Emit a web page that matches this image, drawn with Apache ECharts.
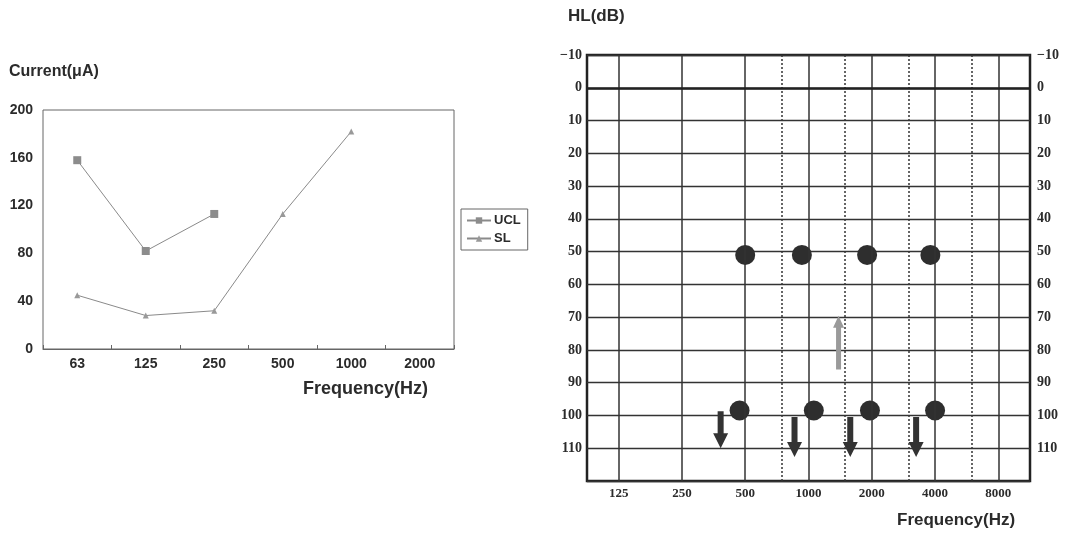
<!DOCTYPE html>
<html>
<head>
<meta charset="utf-8">
<script src="https://cdn.jsdelivr.net/npm/echarts@6/dist/echarts.min.js"></script>
<style>
html,body{margin:0;padding:0;background:#fff;}
#chart{width:1079px;height:534px;}
</style>
</head>
<body>
<div id="chart"></div>
<script>
// ---------- Left chart data ----------
const leftCategories = ['63', '125', '250', '500', '1000', '2000'];
const uclValues = [158, 82, 113, null, null, null];
const slValues = [45, 28, 32, 113, 182, null];
const leftYMin = 0, leftYMax = 200, leftYStep = 40;

// ---------- Right chart (audiogram) data ----------
const octaveFreqs = [125, 250, 500, 1000, 2000, 4000, 8000];
const halfOctaveFreqs = [750, 1500, 3000, 6000];
const hlMin = -10, hlMax = 120, hlStep = 10;
const upperDotFreqs = [500, 930, 1900, 3800];
const upperDotHL = [51, 51, 51, 51];
const lowerDotFreqs = [470, 1060, 1960, 4000];
const lowerDotHL = [98.5, 98.5, 98.5, 98.5];
const downArrowFreqs = [382, 858, 1580, 3250];
const downArrowStartHL = [98.7, 100.5, 100.5, 100.5];
const downArrowTipHL = [110, 112.7, 112.7, 112.7];
const upArrowFreqs = [1390];
const upArrowStartHL = [86];
const upArrowTipHL = [69.6];

const BASE_F = 125;
const oct = f => Math.log2(f / BASE_F);

const sans = 'Liberation Sans, Arial, sans-serif';
const serif = 'Liberation Serif, DejaVu Serif, serif';
const ink = '#2b2b2b';

function arrowRenderer(shaftW, headW, headLen, color) {
  return function (params, api) {
    const p0 = api.coord([api.value(0), api.value(1)]);
    const p1 = api.coord([api.value(0), api.value(2)]);
    const dir = p1[1] > p0[1] ? 1 : -1;
    const x = p0[0];
    const yb = p1[1] - dir * headLen;
    return {
      type: 'polygon',
      shape: { points: [
        [x - shaftW / 2, p0[1]], [x + shaftW / 2, p0[1]], [x + shaftW / 2, yb],
        [x + headW / 2, yb], [x, p1[1]], [x - headW / 2, yb], [x - shaftW / 2, yb]
      ] },
      style: { fill: color }
    };
  };
}

const chart = echarts.init(document.getElementById('chart'), null, { renderer: 'canvas' });

const option = {
  animation: false,
  backgroundColor: '#fff',
  title: [
    { text: 'Current(μA)', left: 9, top: 64, padding: 0,
      textStyle: { fontFamily: sans, fontSize: 16, fontWeight: 'bold', color: ink } },
    { text: 'Frequency(Hz)', left: 303, top: 380, padding: 0,
      textStyle: { fontFamily: sans, fontSize: 18, fontWeight: 'bold', color: ink } },
    { text: 'HL(dB)', left: 568, top: 8, padding: 0,
      textStyle: { fontFamily: sans, fontSize: 17, fontWeight: 'bold', color: ink } },
    { text: 'Frequency(Hz)', left: 897, top: 512, padding: 0,
      textStyle: { fontFamily: sans, fontSize: 17, fontWeight: 'bold', color: ink } }
  ],
  legend: {
    data: ['UCL', 'SL'],
    orient: 'vertical',
    left: 461, top: 209,
    padding: [5, 7, 5, 5],
    itemGap: 5,
    itemWidth: 24, itemHeight: 8,
    borderColor: '#666', borderWidth: 1,
    textStyle: { fontFamily: sans, fontSize: 13, fontWeight: 'bold', color: ink, padding: [0, 0, 0, -2] }
  },
  grid: [
    { left: 43, top: 110, right: 1079 - 454, bottom: 534 - 349, show: true,
      borderColor: '#666', borderWidth: 1, backgroundColor: 'transparent', outerBoundsMode: 'none' },
    { left: 587, top: 55, right: 1079 - 1030, bottom: 534 - 481, show: true,
      borderColor: '#222', borderWidth: 2.5, backgroundColor: 'transparent', outerBoundsMode: 'none' }
  ],
  xAxis: [
    { type: 'category', gridIndex: 0, data: leftCategories, boundaryGap: true,
      axisLine: { show: true, lineStyle: { color: '#666', width: 1 } },
      axisTick: { show: true, inside: true, length: 4, lineStyle: { color: '#666' } },
      splitLine: { show: false },
      axisLabel: { margin: 8, fontFamily: sans, fontSize: 14, fontWeight: 'bold', color: ink } },
    { type: 'value', gridIndex: 1, min: -0.5, max: 6.5, interval: 0.5,
      axisLine: { show: false }, axisTick: { show: false }, splitLine: { show: false },
      axisLabel: { margin: 6, fontFamily: serif, fontSize: 13, fontWeight: 'bold', color: ink,
        formatter: v => (Math.abs(v - Math.round(v)) < 1e-6 && v >= 0 && v <= 6) ? String(octaveFreqs[Math.round(v)]) : '' } }
  ],
  yAxis: [
    { type: 'value', gridIndex: 0, min: leftYMin, max: leftYMax, interval: leftYStep,
      axisLine: { show: false }, axisTick: { show: false }, splitLine: { show: false },
      axisLabel: { margin: 10, fontFamily: sans, fontSize: 14, fontWeight: 'bold', color: ink } },
    { type: 'value', gridIndex: 1, inverse: true, min: hlMin, max: hlMax, interval: hlStep, position: 'left',
      axisLine: { show: false }, axisTick: { show: false },
      splitLine: { show: true, lineStyle: { color: '#333', width: 1.3 } },
      axisLabel: { margin: 5, fontFamily: serif, fontSize: 14, fontWeight: 'bold', color: ink,
        formatter: v => v === hlMax ? '' : (v < 0 ? '−' + Math.abs(v) : String(v)) } },
    { type: 'value', gridIndex: 1, inverse: true, min: hlMin, max: hlMax, interval: hlStep, position: 'right',
      axisLine: { show: false }, axisTick: { show: false }, splitLine: { show: false },
      axisLabel: { margin: 7, fontFamily: serif, fontSize: 14, fontWeight: 'bold', color: ink,
        formatter: v => v === hlMax ? '' : (v < 0 ? '−' + Math.abs(v) : String(v)) } }
  ],
  series: [
    { name: 'UCL', type: 'line', xAxisIndex: 0, yAxisIndex: 0, data: uclValues,
      symbol: 'rect', symbolSize: 8, connectNulls: false,
      lineStyle: { color: '#8a8a8a', width: 1 }, itemStyle: { color: '#8c8c8c' } },
    { name: 'SL', type: 'line', xAxisIndex: 0, yAxisIndex: 0, data: slValues,
      symbol: 'triangle', symbolSize: 6, connectNulls: false,
      lineStyle: { color: '#8a8a8a', width: 1 }, itemStyle: { color: '#999' } },
    // Audiogram grid lines (vertical) and the 0 dB reference line
    { type: 'scatter', xAxisIndex: 1, yAxisIndex: 1, data: [], silent: true,
      markLine: { silent: true, symbol: 'none', label: { show: false },
        data: octaveFreqs.map(f => ({ xAxis: oct(f), lineStyle: { color: '#333', width: 1.5, type: 'solid' } }))
          .concat(halfOctaveFreqs.map(f => ({ xAxis: oct(f), lineStyle: { color: '#333', width: 1.5, type: [2, 2] } })))
          .concat([{ yAxis: 0, lineStyle: { color: '#222', width: 2.5, type: 'solid' } }]) } },
    { type: 'scatter', xAxisIndex: 1, yAxisIndex: 1, symbolSize: 20, itemStyle: { color: '#2e2e2e', opacity: 1 },
      data: upperDotFreqs.map((f, i) => [oct(f), upperDotHL[i]]).concat(lowerDotFreqs.map((f, i) => [oct(f), lowerDotHL[i]])) },
    { type: 'custom', xAxisIndex: 1, yAxisIndex: 1, renderItem: arrowRenderer(6, 15, 15, '#333'),
      data: downArrowFreqs.map((f, i) => [oct(f), downArrowStartHL[i], downArrowTipHL[i]]) },
    { type: 'custom', xAxisIndex: 1, yAxisIndex: 1, renderItem: arrowRenderer(5, 11, 12, '#9a9a9a'),
      data: upArrowFreqs.map((f, i) => [oct(f), upArrowStartHL[i], upArrowTipHL[i]]) }
  ]
};
chart.setOption(option);
</script>
</body>
</html>
